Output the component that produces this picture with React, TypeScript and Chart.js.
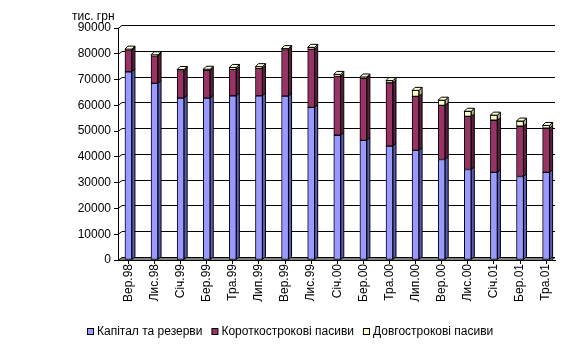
import React, { useEffect, useRef } from 'react';
import { Chart, registerables } from 'chart.js';

Chart.register(...registerables);

const categories = ['Вер.98', 'Лис.98', 'Січ.99', 'Бер.99', 'Тра.99', 'Лип.99', 'Вер.99', 'Лис.99', 'Січ.00', 'Бер.00', 'Тра.00', 'Лип.00', 'Вер.00', 'Лис.00', 'Січ.01', 'Бер.01', 'Тра.01'];
const capital = [73000, 68500, 62800, 62800, 63700, 63700, 63600, 59200, 48400, 46400, 44200, 42500, 39000, 35100, 34000, 32400, 34000];
const shortTerm = [8500, 10700, 10700, 10800, 10300, 10700, 18000, 22600, 22900, 24100, 24500, 21000, 21000, 20600, 20200, 19500, 17100];
const longTerm = [300, 400, 400, 400, 700, 600, 400, 700, 700, 500, 900, 2300, 2000, 2000, 2000, 2000, 1100];
const seriesNames = ['Капітал та резерви', 'Короткострокові пасиви', 'Довгострокові пасиви'];
const seriesColors = ['#9999FF', '#993366', '#FFFFCC'];
const sideColors = ['#5c5cb8', '#5e1f3f', '#b3b38f'];
const topColors = ['#b8b8ff', '#b35a85', '#ffffe0'];
const yMin = 0;
const yMax = 90000;
const yStep = 10000;
const unitLabel = 'тис. грн';

const FONT = "'Liberation Sans', Arial, sans-serif";
const DEPTH = 3;

const threeD = {
  id: 'threeD',
  beforeDatasetsDraw(chart: any) {
    const { ctx, chartArea } = chart;
    const y = chart.scales.y;
    ctx.save();
    ctx.strokeStyle = '#000';
    ctx.lineWidth = 1;
    y.ticks.forEach((t: any) => {
      if (t.value === 0) return;
      const py = Math.round(y.getPixelForValue(t.value)) + 0.5;
      ctx.beginPath();
      ctx.moveTo(chartArea.left, py);
      ctx.lineTo(chartArea.left + DEPTH + 1, py - DEPTH);
      ctx.lineTo(chartArea.right, py - DEPTH);
      ctx.stroke();
    });
    const b = Math.round(y.getPixelForValue(0)) + 0.5;
    ctx.fillStyle = '#808080';
    ctx.beginPath();
    ctx.moveTo(chartArea.left, b);
    ctx.lineTo(chartArea.right - DEPTH - 1, b);
    ctx.lineTo(chartArea.right, b - DEPTH);
    ctx.lineTo(chartArea.left + DEPTH + 1, b - DEPTH);
    ctx.closePath();
    ctx.fill();
    ctx.stroke();
    ctx.restore();
  },
  afterDatasetsDraw(chart: any) {
    const { ctx } = chart;
    ctx.save();
    ctx.strokeStyle = '#000';
    ctx.lineWidth = 1;
    const n = chart.data.datasets.length;
    for (let d = 0; d < n; d++) {
      const meta = chart.getDatasetMeta(d);
      meta.data.forEach((bar: any) => {
        const p = bar.getProps(['x', 'y', 'base', 'width'], true);
        const r = p.x + p.width / 2;
        const l = p.x - p.width / 2;
        ctx.fillStyle = sideColors[d];
        ctx.beginPath();
        ctx.moveTo(r, p.y);
        ctx.lineTo(r + DEPTH, p.y - DEPTH);
        ctx.lineTo(r + DEPTH, p.base - DEPTH);
        ctx.lineTo(r, p.base);
        ctx.closePath();
        ctx.fill();
        ctx.stroke();
        if (d === n - 1) {
          ctx.fillStyle = topColors[d];
          ctx.beginPath();
          ctx.moveTo(l, p.y);
          ctx.lineTo(l + DEPTH, p.y - DEPTH);
          ctx.lineTo(r + DEPTH, p.y - DEPTH);
          ctx.lineTo(r, p.y);
          ctx.closePath();
          ctx.fill();
          ctx.stroke();
        }
      });
    }
    ctx.restore();
  },
  afterDraw(chart: any) {
    const { ctx } = chart;
    ctx.save();
    ctx.font = `12px ${FONT}`;
    ctx.fillStyle = '#000';
    ctx.textBaseline = 'middle';
    ctx.textAlign = 'left';
    ctx.fillText(unitLabel, 72, 17);
    const box = 7;
    const gapText = 3;
    const gapItem = 9;
    const widths = seriesNames.map((s) => ctx.measureText(s).width);
    const total = widths.reduce((a, w) => a + box + gapText + w, 0) + gapItem * (seriesNames.length - 1);
    let x = Math.round(chart.width / 2 - total / 2);
    const cy = 332;
    seriesNames.forEach((s, i) => {
      ctx.fillStyle = seriesColors[i];
      ctx.fillRect(x + 0.5, cy - 3.5, box - 1, box - 1);
      ctx.strokeStyle = '#000';
      ctx.strokeRect(x + 0.5, cy - 3.5, box - 1, box - 1);
      ctx.fillStyle = '#000';
      ctx.fillText(s, x + box + gapText, cy);
      x += box + gapText + widths[i] + gapItem;
    });
    ctx.restore();
  },
};

export default function App() {
  const ref = useRef<HTMLCanvasElement>(null);
  useEffect(() => {
    if (!ref.current) return;
    const series = [capital, shortTerm, longTerm];
    const chart = new Chart(ref.current, {
      type: 'bar',
      data: {
        datasets: series.map((arr, d) => ({
          label: seriesNames[d],
          data: arr.map((v, i) => ({ x: i, y: v })),
          backgroundColor: seriesColors[d],
          borderColor: '#000',
          borderWidth: 1,
          borderSkipped: false,
          barThickness: 7,
        })),
      },
      options: {
        responsive: false,
        animation: false,
        devicePixelRatio: 1,
        layout: { padding: { left: 0, right: 26, top: 28, bottom: 41 } },
        plugins: { legend: { display: false }, tooltip: { enabled: false } },
        scales: {
          x: {
            type: 'linear',
            stacked: true,
            offset: false,
            min: -0.4,
            max: 16.34,
            afterBuildTicks: (s: any) => {
              s.ticks = categories.map((_, i) => ({ value: i }));
            },
            afterFit: (s: any) => {
              s.height = 50;
            },
            grid: { offset: false, drawOnChartArea: false, drawTicks: true, tickLength: 4, color: '#000' },
            border: { display: true, color: '#000' },
            ticks: {
              autoSkip: false,
              minRotation: 90,
              maxRotation: 90,
              padding: 0,
              color: '#000',
              font: { family: FONT, size: 12 },
              callback: (v: any) => categories[v] ?? '',
            },
          },
          y: {
            stacked: true,
            min: yMin,
            max: yMax,
            afterFit: (s: any) => {
              s.width = 118;
            },
            grid: { drawOnChartArea: false, drawTicks: true, tickLength: 4, color: '#000' },
            border: { display: true, color: '#000' },
            ticks: {
              stepSize: yStep,
              padding: 3,
              color: '#000',
              font: { family: FONT, size: 12 },
              callback: (v: any) => String(v),
            },
          },
        },
      },
      plugins: [threeD],
    });
    return () => chart.destroy();
  }, []);
  return (
    <div style={{ position: 'fixed', left: 0, top: 0, width: 581, height: 351, background: '#fff' }}>
      <canvas ref={ref} width={581} height={351} />
    </div>
  );
}
